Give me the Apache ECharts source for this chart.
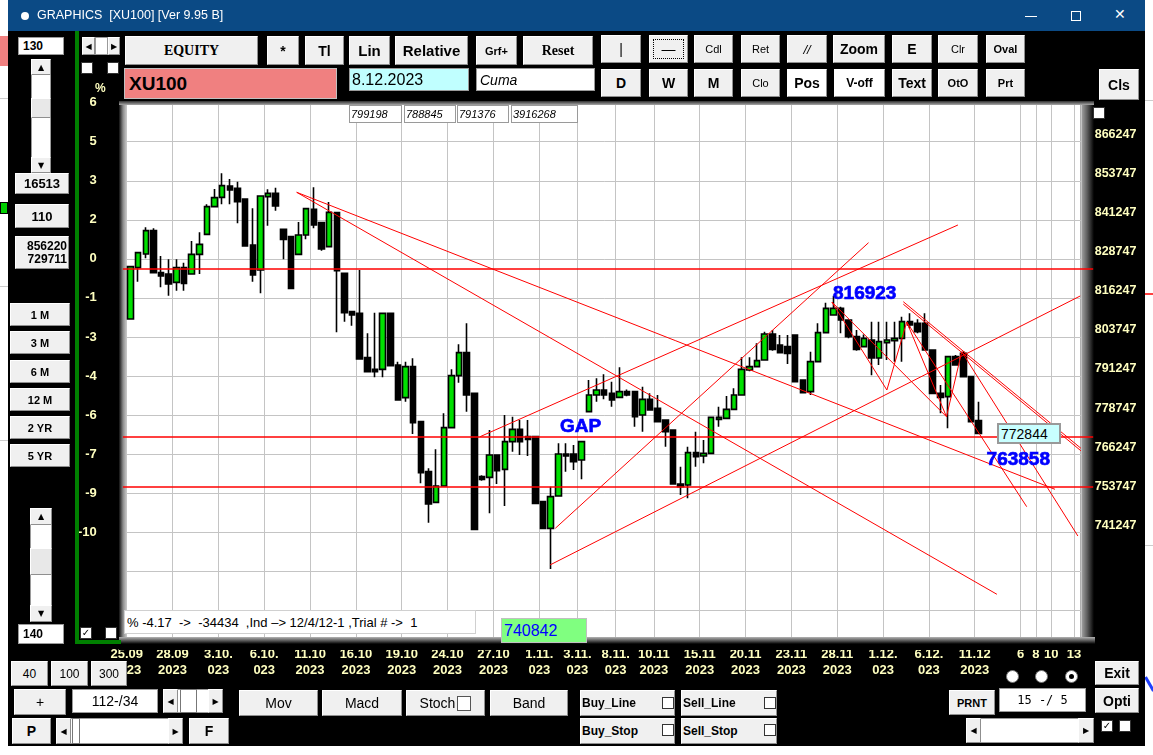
<!DOCTYPE html>
<html><head><meta charset="utf-8">
<script src="https://cdn.jsdelivr.net/npm/echarts@6/dist/echarts.min.js"></script>
<style>
html,body{margin:0;padding:0;}
body{width:1153px;height:755px;position:relative;overflow:hidden;background:#fff;font-family:'Liberation Sans',Arial,sans-serif;}
.a{position:absolute;box-sizing:border-box;}
.btn{position:absolute;box-sizing:border-box;background:#f0f0f0;border:1px solid;border-color:#fff #8f8f8f #8f8f8f #fff;display:flex;align-items:center;justify-content:center;color:#000;font-size:13px;white-space:nowrap;z-index:5;}
.b{font-weight:bold;}
.box{position:absolute;box-sizing:border-box;background:#fff;border:1px solid #9a9a9a;z-index:5;display:flex;align-items:center;white-space:pre;color:#000;}
.chk{position:absolute;box-sizing:border-box;width:12px;height:12px;background:#fff;border:1px solid #333;z-index:5;font-family:'DejaVu Sans';font-size:10px;line-height:10px;text-align:center;font-weight:bold;color:#000;}
.arr{font-family:'DejaVu Sans';font-size:8px;}
.rad{position:absolute;box-sizing:border-box;width:13px;height:13px;border-radius:50%;background:#fff;border:1px solid #777;z-index:5;}
#chart{position:absolute;left:0;top:0;width:1153px;height:755px;z-index:2;}
</style></head>
<body>
<!-- desktop behind -->
<div class="a" style="left:0;top:36px;width:8px;height:30px;background:#f08080;"></div>
<div class="a" style="left:0;top:202px;width:8px;height:12px;background:#00d000;border:1px solid #000;"></div>
<div class="a" style="left:0;top:98px;width:8px;height:1px;background:#ccc;"></div>
<div class="a" style="left:0;top:286px;width:8px;height:1px;background:#ccc;"></div>
<div class="a" style="left:0;top:440px;width:8px;height:1px;background:#ccc;"></div>
<div class="a" style="left:1145px;top:100px;width:8px;height:1px;background:#ccc;"></div>
<div class="a" style="left:1145px;top:293px;width:8px;height:2px;background:#ff4040;"></div>
<div class="a" style="left:1145px;top:545px;width:8px;height:1px;background:#ccc;"></div>
<div class="a" style="left:1148px;top:676px;width:3px;height:16px;background:#2040ff;transform:rotate(-30deg);"></div>

<!-- window -->
<div class="a" style="left:8px;top:0;width:1137px;height:746px;background:#000;"></div>
<div class="a" style="left:8px;top:0;width:1137px;height:31px;background:#0b4a85;z-index:5;"></div>
<div class="a" style="left:21px;top:12px;width:8px;height:8px;border-radius:50%;background:#fff;z-index:6;"></div>
<div class="a" style="left:37px;top:8px;color:#fff;font-size:12.5px;z-index:6;white-space:pre;">GRAPHICS  [XU100] [Ver 9.95 B]</div>
<div class="a" style="left:1025px;top:16px;width:12px;height:1px;background:#fff;z-index:6;"></div>
<div class="a" style="left:1071px;top:11px;width:10px;height:10px;border:1px solid #fff;z-index:6;"></div>
<div class="a" style="left:1114px;top:6px;color:#fff;font-family:'DejaVu Sans';font-size:14px;z-index:6;">✕</div>

<!-- chart panel -->
<div class="a" style="left:127px;top:105px;width:953px;height:532px;background:#fff;z-index:1;"></div>
<div class="a" style="left:119px;top:103px;width:8px;height:536px;background:linear-gradient(to right,#101010,#8a8a8a,#d0d0d0);z-index:1;"></div>
<div class="a" style="left:1080px;top:103px;width:14px;height:546px;background:linear-gradient(to right,#b4b4b4,#606060,#000);z-index:1;"></div>
<div id="chart"></div>
<div class="a" style="left:119px;top:101px;width:975px;height:4px;background:linear-gradient(to bottom,#303030,#a8a8a8);z-index:4;"></div>
<div class="a" style="left:119px;top:637px;width:976px;height:12.6px;background:linear-gradient(to bottom,#b4b4b4 0px,#505050 4px,#000 7px,#000 100%);z-index:4;"></div>
<div class="a" style="left:1081px;top:645px;width:16px;height:7px;background:#000;z-index:4;"></div>

<!-- left panel -->
<div class="box b" style="left:18px;top:37px;width:46px;height:18px;font-size:12px;padding-left:4px;">130</div>
<div class="btn arr" style="left:82px;top:37px;width:13px;height:18px;">◀</div>
<div class="box" style="left:95px;top:37px;width:13px;height:18px;"></div>
<div class="btn arr" style="left:108px;top:37px;width:12px;height:18px;">▶</div>
<div class="chk" style="left:81px;top:62px;"></div>
<div class="chk" style="left:107px;top:62px;"></div>
<div class="box" style="left:31px;top:59px;width:20px;height:114px;"></div>
<div class="btn arr" style="left:31px;top:59px;width:20px;height:16px;">▲</div>
<div class="btn" style="left:31px;top:98px;width:20px;height:20px;background:#e8e8e8;"></div>
<div class="btn arr" style="left:31px;top:157px;width:20px;height:16px;">▼</div>
<div class="btn b" style="left:15px;top:173px;width:54px;height:21px;font-size:13px;">16513</div>
<div class="btn b" style="left:15px;top:204px;width:54px;height:24px;font-size:13px;">110</div>
<div class="btn b" style="left:15px;top:236px;width:54px;height:33px;font-size:12px;flex-direction:column;align-items:flex-end;padding-right:1px;line-height:13px;"><span>856220</span><span>729711</span></div>
<div class="btn b" style="left:10px;top:303px;width:60px;height:23px;font-size:11px;">1 M</div>
<div class="btn b" style="left:10px;top:331px;width:60px;height:23px;font-size:11px;">3 M</div>
<div class="btn b" style="left:10px;top:360px;width:60px;height:23px;font-size:11px;">6 M</div>
<div class="btn b" style="left:10px;top:388px;width:60px;height:23px;font-size:11px;">12 M</div>
<div class="btn b" style="left:10px;top:416px;width:60px;height:23px;font-size:11px;">2 YR</div>
<div class="btn b" style="left:10px;top:444px;width:60px;height:23px;font-size:11px;">5 YR</div>
<div class="a" style="left:75px;top:31px;width:4px;height:613px;background:#008000;z-index:5;"></div>
<div class="a" style="left:75px;top:640px;width:46px;height:4px;background:#008000;z-index:5;"></div>
<div class="a b" style="left:95px;top:81px;color:#ffffc0;font-size:12px;z-index:5;">%</div>
<div class="box" style="left:30px;top:508px;width:22px;height:114px;"></div>
<div class="btn arr" style="left:30px;top:508px;width:22px;height:17px;">▲</div>
<div class="btn" style="left:30px;top:548px;width:22px;height:27px;background:#e8e8e8;"></div>
<div class="btn arr" style="left:30px;top:605px;width:22px;height:17px;">▼</div>
<div class="box b" style="left:18px;top:624px;width:46px;height:20px;font-size:12px;padding-left:4px;">140</div>
<div class="chk" style="left:80px;top:627px;">✓</div>
<div class="chk" style="left:105px;top:627px;"></div>

<!-- top toolbar -->
<div class="btn b" style="left:125px;top:36px;width:133px;height:29px;font-family:'Liberation Serif';font-size:14px;">EQUITY</div>
<div class="btn b" style="left:267px;top:36px;width:32px;height:29px;font-size:14px;">*</div>
<div class="btn b" style="left:305px;top:36px;width:39px;height:29px;font-size:14px;">Tl</div>
<div class="btn" style="left:349px;top:36px;width:41px;height:29px;font-size:15px;font-weight:600;">Lin</div>
<div class="btn" style="left:395px;top:36px;width:73px;height:29px;font-size:15px;font-weight:600;">Relative</div>
<div class="btn b" style="left:476px;top:36px;width:41px;height:29px;font-size:11px;">Grf+</div>
<div class="btn b" style="left:523px;top:36px;width:70px;height:29px;font-family:'Liberation Serif';font-size:14px;">Reset</div>
<div class="btn" style="left:601px;top:35px;width:40px;height:28px;font-size:14px;">|</div>
<div class="btn" style="left:649px;top:35px;width:39px;height:28px;font-size:14px;"><div style="border:1px dotted #000;width:29px;height:18px;display:flex;align-items:center;justify-content:center;">—</div></div>
<div class="btn" style="left:694px;top:35px;width:39px;height:28px;font-size:11px;">Cdl</div>
<div class="btn" style="left:741px;top:35px;width:39px;height:28px;font-size:11px;">Ret</div>
<div class="btn" style="left:787px;top:35px;width:40px;height:28px;font-size:13px;font-style:italic;">//</div>
<div class="btn b" style="left:833px;top:35px;width:52px;height:28px;font-size:14px;">Zoom</div>
<div class="btn b" style="left:892px;top:35px;width:40px;height:28px;font-size:14px;">E</div>
<div class="btn" style="left:938px;top:35px;width:40px;height:28px;font-size:11px;">Clr</div>
<div class="btn b" style="left:986px;top:35px;width:39px;height:28px;font-size:11px;">Oval</div>
<div class="btn b" style="left:601px;top:69px;width:40px;height:28px;font-size:14px;">D</div>
<div class="btn b" style="left:649px;top:69px;width:39px;height:28px;font-size:14px;">W</div>
<div class="btn b" style="left:694px;top:69px;width:39px;height:28px;font-size:14px;">M</div>
<div class="btn" style="left:741px;top:69px;width:39px;height:28px;font-size:11px;">Clo</div>
<div class="btn b" style="left:787px;top:69px;width:40px;height:28px;font-size:14px;background:#fff;">Pos</div>
<div class="btn b" style="left:834px;top:69px;width:51px;height:28px;font-size:12px;background:#fff;">V-off</div>
<div class="btn b" style="left:892px;top:69px;width:40px;height:28px;font-size:14px;">Text</div>
<div class="btn b" style="left:938px;top:69px;width:40px;height:28px;font-size:11px;">OtO</div>
<div class="btn b" style="left:986px;top:69px;width:39px;height:28px;font-size:11px;">Prt</div>
<div class="btn b" style="left:1099px;top:69px;width:40px;height:31px;font-size:14px;">Cls</div>
<div class="chk" style="left:1093px;top:107px;"></div>
<div class="box b" style="left:124px;top:68px;width:213px;height:31px;background:#f08080;font-size:19px;padding-left:4px;border-color:#c0c0c0;">XU100</div>
<div class="box" style="left:349px;top:68px;width:120px;height:23px;background:#c0ffff;font-size:16px;padding-left:2px;">8.12.2023</div>
<div class="box" style="left:476px;top:68px;width:119px;height:23px;font-size:14px;font-style:italic;padding-left:3px;">Cuma</div>
<div class="box" style="left:349px;top:105px;width:53px;height:18px;font-size:11px;font-style:italic;padding-left:1px;">799198</div>
<div class="box" style="left:404px;top:105px;width:52px;height:18px;font-size:11px;font-style:italic;padding-left:1px;">788845</div>
<div class="box" style="left:457px;top:105px;width:52px;height:18px;font-size:11px;font-style:italic;padding-left:1px;">791376</div>
<div class="box" style="left:511px;top:105px;width:67px;height:18px;font-size:11px;font-style:italic;padding-left:1px;">3916268</div>

<!-- in-chart boxes -->
<div class="box" style="left:997px;top:423px;width:64px;height:21px;background:#c8ffff;font-size:14px;padding-left:2px;border:2px solid #999;">772844</div>
<div class="box" style="left:124px;top:610px;width:352px;height:24px;font-size:13px;padding-left:2px;border-color:#d0d0d0;">% -4.17  ->  -34434  ,Ind –> 12/4/12-1 ,Trial # ->  1</div>
<div class="box" style="left:501px;top:618px;width:86px;height:25px;background:#80ff80;color:#0000ff;font-size:16px;padding-left:2px;border-color:#c0c0c0;">740842</div>

<!-- bottom controls -->
<div class="btn" style="left:11px;top:661px;width:37px;height:25px;font-size:12px;">40</div>
<div class="btn" style="left:51px;top:661px;width:37px;height:25px;font-size:12px;">100</div>
<div class="btn" style="left:91px;top:661px;width:36px;height:25px;font-size:12px;">300</div>
<div class="btn" style="left:14px;top:689px;width:52px;height:26px;font-size:14px;">+</div>
<div class="box" style="left:72px;top:689px;width:86px;height:24px;font-size:14px;justify-content:center;">112-/34</div>
<div class="box" style="left:163px;top:689px;width:60px;height:24px;"></div>
<div class="btn arr" style="left:163px;top:689px;width:15px;height:24px;">◀</div>
<div class="box" style="left:180px;top:689px;width:17px;height:24px;border-color:#777;"></div>
<div class="btn arr" style="left:208px;top:689px;width:15px;height:24px;">▶</div>
<div class="btn" style="left:239px;top:690px;width:79px;height:26px;font-size:14px;">Mov</div>
<div class="btn" style="left:322px;top:690px;width:80px;height:26px;font-size:14px;">Macd</div>
<div class="btn" style="left:406px;top:690px;width:79px;height:26px;font-size:14px;">Stoch<span style="display:inline-block;width:12px;height:13px;border:1px solid #555;background:#fff;margin-left:2px;"></span></div>
<div class="btn" style="left:490px;top:690px;width:78px;height:26px;font-size:14px;">Band</div>
<div class="btn b" style="left:580px;top:690px;width:95px;height:26px;font-size:12px;justify-content:flex-start;padding-left:1px;">Buy_Line</div>
<div class="chk" style="left:662px;top:697px;"></div>
<div class="btn b" style="left:681px;top:690px;width:96px;height:26px;font-size:12px;justify-content:flex-start;padding-left:1px;">Sell_Line</div>
<div class="chk" style="left:764px;top:697px;"></div>
<div class="btn b" style="left:580px;top:718px;width:95px;height:26px;font-size:12px;justify-content:flex-start;padding-left:1px;">Buy_Stop</div>
<div class="chk" style="left:662px;top:724px;"></div>
<div class="btn b" style="left:681px;top:718px;width:96px;height:26px;font-size:12px;justify-content:flex-start;padding-left:1px;">Sell_Stop</div>
<div class="chk" style="left:764px;top:724px;"></div>
<div class="btn b" style="left:12px;top:718px;width:39px;height:26px;font-size:14px;">P</div>
<div class="box" style="left:56px;top:718px;width:127px;height:26px;"></div>
<div class="btn arr" style="left:56px;top:718px;width:15px;height:26px;">◀</div>
<div class="box" style="left:72px;top:718px;width:8px;height:26px;border-color:#777;"></div>
<div class="btn arr" style="left:168px;top:718px;width:15px;height:26px;">▶</div>
<div class="btn b" style="left:189px;top:718px;width:40px;height:26px;font-size:14px;">F</div>
<div class="btn b" style="left:949px;top:690px;width:46px;height:25px;font-size:11px;">PRNT</div>
<div class="box" style="left:999px;top:688px;width:87px;height:24px;font-size:12px;font-family:'DejaVu Sans Mono';justify-content:center;">15 -/ 5</div>
<div class="box" style="left:966px;top:718px;width:128px;height:25px;"></div>
<div class="btn arr" style="left:966px;top:718px;width:15px;height:25px;">◀</div>
<div class="btn arr" style="left:1078px;top:718px;width:16px;height:25px;">▶</div>
<div class="rad" style="left:1006px;top:670px;"></div>
<div class="rad" style="left:1035px;top:670px;"></div>
<div class="rad" style="left:1065px;top:670px;"><div style="position:absolute;left:3px;top:3px;width:5px;height:5px;border-radius:50%;background:#000;"></div></div>
<div class="btn b" style="left:1095px;top:661px;width:44px;height:24px;font-size:14px;">Exit</div>
<div class="btn b" style="left:1095px;top:688px;width:44px;height:25px;font-size:14px;">Opti</div>
<div class="chk" style="left:1101px;top:720px;">✓</div>
<div class="chk" style="left:1119px;top:720px;"></div>

<script>
// ---- data ----
const barOpen = [809493,825925,830300,837769,824325,823898,821230,825925,823898,830193,836595,845451,848439,852066,851320,847905,833180,825178,848652,849719,838195,835848,830193,836381,844597,840329,832647,843531,824111,811840,811307,797116,793381,793381,811307,794768,784312,794235,776630,760625,750808,756037,774709,791354,798716,785699,759024,758811,765960,761372,770228,774176,771828,771828,751022,742486,752835,766280,766280,764359,779830,785165,786766,785697,784418,786232,786232,778764,783778,780898,777163,773962,756677,756357,766707,765640,766493,777377,777696,780578,785165,793168,794235,796369,804692,801170,800637,804372,789967,786233,795836,805119,810774,812907,809173,803838,800637,802771,797000,801917,802557,803304,808639,808106,808106,799570,785699,784632,797436,798503,791034,776949];
const barClose = [826245,830726,837769,824325,823257,820696,825925,820910,830193,833394,845451,848332,852173,850786,847052,832860,823578,848865,849719,845665,834994,819310,836381,844811,839583,831900,843637,824965,811520,810773,796689,792635,792635,811307,794555,783565,794235,776309,760304,750275,756037,774709,791354,798716,785165,742166,758170,765960,760945,770228,774176,770228,770974,750488,742486,752622,766280,765640,763825,770228,785165,786766,785165,783565,786232,785165,778230,783778,780364,776629,773429,756677,755823,766707,765427,766493,778017,778017,780578,785165,793381,794235,796156,804692,799783,798716,798503,789434,785913,795836,805119,812907,812907,809173,803838,799783,803304,797000,802237,802771,803304,808639,807573,805439,799570,785699,784418,797436,794768,791034,776629,772844];
const barLow = [809493,821444,828913,824325,819630,816962,818562,818562,823898,823898,836595,845238,846198,846198,840116,832860,821444,817709,839369,844171,828592,819310,830193,834994,838515,831366,832647,805225,808640,807361,796689,792635,790821,790821,794555,783565,783031,772682,756890,744300,750808,756037,774709,789113,779831,742166,757700,747287,756677,749630,767027,765960,765640,750488,742486,729500,752835,760625,761158,758170,779830,783031,783778,781431,784418,784800,775029,773429,780151,776629,768627,756677,753155,752089,762225,763292,766493,775029,777696,780578,785165,792800,794235,796369,799356,798716,795088,789434,785913,785166,795836,805119,810774,804905,803304,799357,800637,791500,794768,796369,795836,795836,806506,804905,799570,785699,779297,774495,794768,791034,776629,772844];
const barHigh = [826245,830726,838836,838515,829660,828592,828592,827526,834461,837235,846198,851106,856121,854307,853454,847905,844918,848865,850999,851533,838195,835848,840543,844811,851640,840329,846945,843531,824111,811840,825178,804905,811520,811307,811307,795836,795836,796903,776630,761691,767773,779297,793381,801384,808106,785699,759500,773962,765960,778764,778230,777163,777163,771828,751022,755823,769694,769694,769160,770228,789967,790500,791781,789434,794022,786900,786232,787833,785697,785165,777163,773962,762225,768627,773429,770761,778017,781431,784845,787300,797222,797222,801704,805439,805972,804372,804372,804372,789967,799036,808106,814721,816923,813441,809173,805972,804500,808639,808639,808639,808639,810240,811307,809386,811307,799570,788366,797436,797970,799250,791034,783031];

const slotCount = 125;                       // 112 bars + empty future slots
const tickSlots = [0,6,12,18,24,30,36,42,48,54,59,64,69,75,81,87,93,99,105,111,117,119,121,124];
const tickLabels = ['25.09\n2023','28.09\n2023','3.10.\n023','6.10.\n023','11.10\n2023','16.10\n2023','19.10\n2023','24.10\n2023','27.10\n2023','1.11.\n023','3.11.\n023','8.11.\n023','10.11\n2023','15.11\n2023','20.11\n2023','23.11\n2023','28.11\n2023','1.12.\n023','6.12.\n023','11.12\n2023','6','8','10','13'];

const priceMin = 703747, priceMax = 878747, priceStep = 12500;
const pctLevels = [878747,866247,853747,841247,828747,816247,803747,791247,778747,766247,753747,741247];
const pctLabels = ['6','5','3','2','0','-1','-3','-4','-6','-7','-9','-10'];

const levelLines = [825722, 771817, 755812];
// [barIndexFrom, priceFrom, barIndexTo, priceTo]
const trendLines = [
  [21.75,850050,121.0,754980],
  [21.75,850050,113.4,721370],
  [54.9,730750,124.3,816855],
  [55.6,742495,96.6,833917],
  [45.75,771817,108.3,839583],
  [91.8,814935,106.8,778220],
  [91.8,814935,99.0,786766],
  [99.0,786766,101.6,808533],
  [101.6,808533,106.8,778220],
  [106.8,778220,108.8,799026],
  [101.6,808533,117.3,749410],
  [108.8,799026,124.0,740030],
  [101.15,815031,124.4,768105],
  [101.15,814231,124.4,767305]
];
const noteText = ['GAP','816923','763858'];
const noteBar = [58.9, 96.1, 116.2];
const notePrice = [774920, 817655, 764360];

// ---- build ----
const slotNames = Array.from({length: slotCount}, (_, i) => String(i));
const candles = barOpen.map((o, i) => [o, barClose[i], barLow[i], barHigh[i]]);
const isTick = (i) => tickSlots.indexOf(i) >= 0;
const slotW = 955 / slotCount;

const chart = echarts.init(document.getElementById('chart'), null, {renderer: 'canvas'});
chart.setOption({
  animation: false,
  backgroundColor: 'transparent',
  grid: {left: 126.7, top: 102.65, width: 955, height: 546.7, containLabel: false},
  xAxis: [{
    type: 'category', data: slotNames, boundaryGap: true,
    axisLine: {show: false}, axisTick: {show: false},
    axisLabel: {
      interval: (i) => isTick(i),
      formatter: (v, i) => { const k = tickSlots.indexOf(i); return k < 0 ? '' : tickLabels[k]; },
      color: '#ffffc0', fontFamily: 'Liberation Sans', fontWeight: 'bold', fontSize: 13, lineHeight: 16,
      margin: -3, padding: [0, slotW, 0, 0]
    },
    splitLine: {show: true, interval: (i) => isTick(i), lineStyle: {color: '#c4c4c4', width: 1}}
  }, {
    type: 'value', min: -0.5, max: slotCount - 0.5, show: false
  }],
  yAxis: [{
    type: 'value', position: 'right', min: priceMin, max: priceMax, interval: priceStep,
    axisLine: {show: false},
    axisTick: {show: true, inside: false, length: 13, lineStyle: {color: '#c4c4c4'}},
    axisLabel: {
      margin: 13, color: '#ffffc0', fontFamily: 'Liberation Sans', fontWeight: 'bold', fontSize: 12.5,
      verticalAlign: 'bottom', lineHeight: 14,
      formatter: (v) => (v >= 741247 && v <= 866247) ? String(v) : ''
    },
    splitLine: {show: true, showMinLine: false, showMaxLine: false, lineStyle: {color: '#c4c4c4', width: 1}}
  }, {
    type: 'value', position: 'left', min: priceMin, max: priceMax, interval: priceStep,
    axisLine: {show: false}, axisTick: {show: false}, splitLine: {show: false},
    axisLabel: {
      margin: 30, color: '#ffffc0', fontFamily: 'Liberation Sans', fontWeight: 'bold', fontSize: 13,
      formatter: (v) => { const k = pctLevels.indexOf(v); return k < 0 ? '' : pctLabels[k]; }
    }
  }],
  series: [{
    type: 'candlestick', xAxisIndex: 0, yAxisIndex: 0, data: candles, barWidth: 6, z: 3,
    itemStyle: {color: '#00e000', color0: '#000000', borderColor: '#000000', borderColor0: '#000000', borderColorDoji: '#000000', borderWidth: 1.6}
  }, {
    type: 'lines', coordinateSystem: 'cartesian2d', xAxisIndex: 1, yAxisIndex: 0, clip: false, z: 4, silent: true,
    lineStyle: {color: '#ff0000', width: 1, opacity: 1, curveness: 0},
    data: trendLines.map(t => ({coords: [[t[0], t[1]], [t[2], t[3]]]}))
      .concat(levelLines.map(p => ({coords: [[-1, p], [126, p]], lineStyle: {width: 1.5, color: '#ff0000'}})))
  }, {
    type: 'scatter', xAxisIndex: 1, yAxisIndex: 0, z: 6, symbolSize: 1, silent: true,
    itemStyle: {color: 'rgba(0,0,0,0)'},
    data: noteText.map((t, i) => [noteBar[i], notePrice[i]]),
    label: {show: true, position: 'inside', formatter: (p) => noteText[p.dataIndex], opacity: 1,
      color: '#0000ff', textBorderColor: '#0000ff', textBorderWidth: 0.7,
      fontFamily: 'Liberation Sans', fontWeight: 'bold', fontSize: 19}
  }]
});
</script>
</body></html>
